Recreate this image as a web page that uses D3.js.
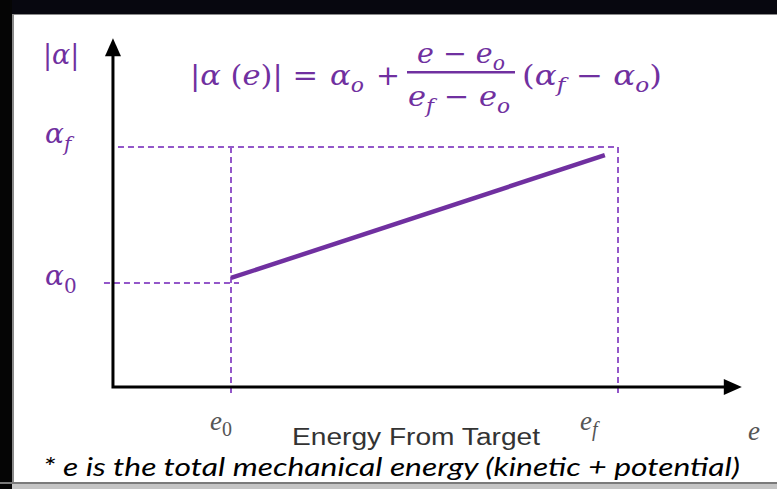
<!DOCTYPE html>
<html>
<head>
<meta charset="utf-8">
<script src="https://cdn.jsdelivr.net/npm/d3@7"></script>
<style>
  html, body { margin: 0; padding: 0; background: #fff; }
  svg { display: block; }
</style>
</head>
<body>
<svg id="chart" width="777" height="489"></svg>
<script>
// Reference energies on the e axis (e0, ef) and their subscripts
const eMarks = [0, 1];
const eSubs = ["0", "f"];
// Reference gains on the |α| axis (α0, αf) and their subscripts
const alphaMarks = [0, 1];
const alphaSubs = ["0", "f"];
// Gain schedule segment: energy values and |α| values
const lineE = [0.0, 0.966];
const lineAlpha = [0.037, 0.94];
// Extent of the drawn axes in data units
const axisE = [-0.305, 1.32];
const axisAlpha = [-0.765, 1.80];

const PURPLE = "#7030a0";
const DASH = "#9357c9";

const svg = d3.select("#chart");
const W = 777, H = 489;

// slide frame
svg.append("rect").attr("x", 0).attr("y", 0).attr("width", W).attr("height", H).attr("fill", "#ffffff");
svg.append("rect").attr("x", 0).attr("y", 0).attr("width", W).attr("height", 14).attr("fill", "#07070f");
svg.append("rect").attr("x", 0).attr("y", 14).attr("width", W).attr("height", 1).attr("fill", "#8a8a8a");
svg.append("rect").attr("x", 0).attr("y", 0).attr("width", 12).attr("height", H).attr("fill", "#050505");
svg.append("rect").attr("x", 12).attr("y", 15).attr("width", 2).attr("height", H).attr("fill", "#8a8a8a");
svg.append("rect").attr("x", 0).attr("y", 482).attr("width", W).attr("height", 2).attr("fill", "#7a7a7a");
svg.append("rect").attr("x", 12).attr("y", 484).attr("width", W).attr("height", 5).attr("fill", "#c4c4c4");

const x = d3.scaleLinear().domain([0, 1]).range([231, 618]);
const y = d3.scaleLinear().domain([0, 1]).range([283, 147]);

const x0 = x(axisE[0]), x1 = x(axisE[1]);
const y0 = y(axisAlpha[0]), y1 = y(axisAlpha[1]);

// dashed guides
const guides = svg.append("g")
  .attr("fill", "none")
  .attr("stroke", DASH)
  .attr("stroke-width", 2)
  .attr("stroke-dasharray", "6,4");

guides.append("line")
  .attr("x1", x0 + 5).attr("x2", x(eMarks[1]))
  .attr("y1", y(alphaMarks[1])).attr("y2", y(alphaMarks[1]));
guides.append("line")
  .attr("x1", x0 - 9).attr("x2", x(eMarks[0]) + 8)
  .attr("y1", y(alphaMarks[0])).attr("y2", y(alphaMarks[0]));
eMarks.forEach(e => {
  guides.append("line")
    .attr("x1", x(e)).attr("x2", x(e))
    .attr("y1", y(alphaMarks[1])).attr("y2", y0 + 10);
});

// axes with arrow heads
const axes = svg.append("g");
axes.append("path")
  .attr("d", `M${x0},${y1 + 14}L${x0},${y0}L${x1 - 14},${y0}`)
  .attr("fill", "none").attr("stroke", "#000").attr("stroke-width", 3)
  .attr("stroke-linejoin", "miter");
axes.append("path")
  .attr("d", `M${x0},${y1}L${x0 - 8},${y1 + 18}L${x0 + 8},${y1 + 18}Z`)
  .attr("fill", "#000");
axes.append("path")
  .attr("d", `M${x1},${y0}L${x1 - 18},${y0 - 8}L${x1 - 18},${y0 + 8}Z`)
  .attr("fill", "#000");

// gain schedule line
const pts = lineE.map((e, i) => [x(e), y(lineAlpha[i])]);
svg.append("path")
  .attr("d", d3.line()(pts))
  .attr("fill", "none")
  .attr("stroke", PURPLE)
  .attr("stroke-width", 4.5);

// |α| axis labels
const mathFont = "'DejaVu Serif', 'Liberation Serif', serif";
svg.append("text")
  .attr("x", 43).attr("y", 64)
  .attr("font-family", mathFont).attr("font-style", "italic")
  .attr("font-size", 27).attr("fill", PURPLE)
  .text("|α|");

alphaMarks.forEach((a, i) => {
  const t = svg.append("text")
    .attr("x", 45).attr("y", y(a) + 2 - (i === 1 ? 6 : 0))
    .attr("font-family", mathFont).attr("font-size", 28).attr("fill", PURPLE);
  t.append("tspan").attr("font-style", "italic").text("α");
  t.append("tspan").attr("dy", 8).attr("font-size", 20)
    .attr("font-style", i === 1 ? "italic" : "normal").text(alphaSubs[i]);
});

// e axis labels
const eFont = "'Liberation Serif', serif";
eMarks.forEach((e, i) => {
  const t = svg.append("text")
    .attr("x", x(e) - 21 + (i === 1 ? -17 : 0)).attr("y", 430)
    .attr("font-family", eFont).attr("font-style", "italic")
    .attr("font-size", 27).attr("fill", "#555");
  t.append("tspan").text("e");
  t.append("tspan").attr("dy", 6).attr("font-size", 20)
    .attr("font-style", i === 1 ? "italic" : "normal").text(eSubs[i]);
});
svg.append("text")
  .attr("x", 748).attr("y", 440)
  .attr("font-family", eFont).attr("font-style", "italic")
  .attr("font-size", 27).attr("fill", "#555")
  .text("e");

svg.append("text")
  .attr("x", 292).attr("y", 445)
  .attr("font-family", "'Liberation Sans', Arial, sans-serif")
  .attr("font-size", 23).attr("fill", "#333")
  .attr("textLength", 248).attr("lengthAdjust", "spacingAndGlyphs")
  .text("Energy From Target");

// formula |α(e)| = αo + (e − eo)/(ef − eo) (αf − αo)
const f = svg.append("g")
  .attr("font-family", mathFont).attr("fill", PURPLE).attr("font-size", 28);

// adds a text run made of [string, italic, subscript] parts
function run(xPos, yPos, parts, len) {
  const t = f.append("text").attr("x", xPos).attr("y", yPos);
  let sub = false;
  parts.forEach(([s, it, isSub]) => {
    const ts = t.append("tspan").text(s).attr("font-style", it ? "italic" : "normal");
    if (isSub && !sub) { ts.attr("dy", 7).attr("font-size", 20); sub = true; }
    else if (isSub) { ts.attr("font-size", 20); }
    else if (sub) { ts.attr("dy", -7); sub = false; }
  });
  if (len) t.attr("textLength", len).attr("lengthAdjust", "spacingAndGlyphs");
  return t;
}

run(190, 85, [["|", false], ["α", true], [" (", false], ["e", true], [")| =", false]], 128);
run(330, 85, [["α", true], ["o", true, true]], 34);
run(376, 85, [["+", false]], 24);
run(417, 63, [["e", true], [" − ", false], ["e", true], ["o", true, true]], 88);
f.append("rect").attr("x", 407).attr("y", 71).attr("width", 108).attr("height", 2.5);
run(408, 106, [["e", true], ["f", true, true], [" − ", false], ["e", true], ["o", true, true]], 102);
run(522, 85, [["(", false], ["α", true], ["f", true, true], [" − ", false], ["α", true], ["o", true, true], [")", false]], 140);

// footnote
svg.append("text")
  .attr("x", 43).attr("y", 476)
  .attr("font-family", "Lato, 'Open Sans', sans-serif")
  .attr("font-style", "italic")
  .attr("font-size", 26).attr("fill", "#000")
  .attr("textLength", 697).attr("lengthAdjust", "spacingAndGlyphs")
  .text("* e is the total mechanical energy  (kinetic + potential)");
</script>
</body>
</html>
